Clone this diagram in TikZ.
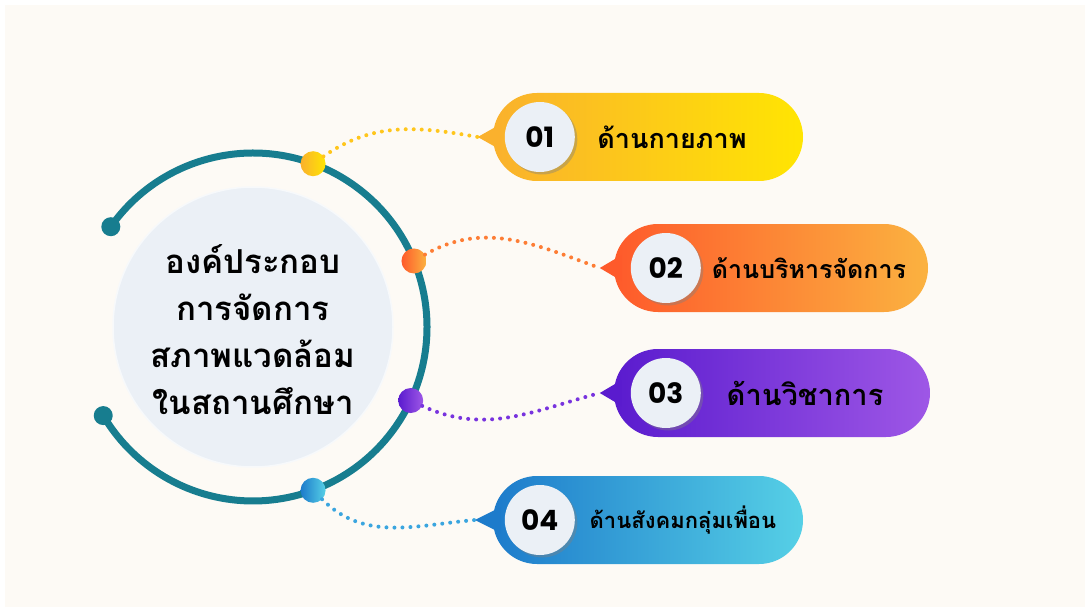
\documentclass[tikz,border=0pt]{standalone}
\usepackage{fontspec}
\usetikzlibrary{calc,positioning,shadows}
\newfontfamily\thaifont[Script=Thai]{Loma}
\newfontfamily\numfont{Poppins}
\definecolor{bgcream}{HTML}{FDFAF5}
\definecolor{ringteal}{HTML}{177D8F}
\definecolor{hubfill}{HTML}{EBF0F6}
\definecolor{yelA}{HTML}{FAB12D}
\definecolor{yelB}{HTML}{FFE502}
\definecolor{yelC}{HTML}{FFC61C}
\definecolor{oraA}{HTML}{FE5A2B}
\definecolor{oraB}{HTML}{FBB240}
\definecolor{oraC}{HTML}{FD7D35}
\definecolor{purA}{HTML}{5A1BCE}
\definecolor{purB}{HTML}{9E57E6}
\definecolor{purC}{HTML}{7833DE}
\definecolor{bluA}{HTML}{1D7BCB}
\definecolor{bluB}{HTML}{56D0E6}
\definecolor{bluC}{HTML}{3AA5DF}
\begin{document}
\begin{tikzpicture}[x=1pt,y=-1pt,
  pill/.style={rounded corners=44pt,minimum width=#1,minimum height=88pt,inner sep=0pt},
  numdisc/.style={circle,fill=hubfill,minimum size=70pt,inner sep=0pt,
    font=\numfont\bfseries\fontsize{28}{28}\selectfont,
    drop shadow={shadow xshift=2.5pt,shadow yshift=-2.5pt,opacity=0.4}},
  lbl/.style={inner sep=0pt,font=\thaifont\bfseries\fontsize{#1}{#1}\selectfont},
  knob/.style={circle,minimum size=25pt,inner sep=0pt},
  endknob/.style={circle,fill=ringteal,minimum size=19pt,inner sep=0pt},
  dotline/.style={line width=4pt,line cap=round,dash pattern=on 0pt off 8pt}]
\useasboundingbox (0,0) rectangle (1085,607);
\fill[white] (0,0) rectangle (1085,607);
\fill[bgcream] (5,5) rectangle (1085,607);

\coordinate (ctr) at (253,327);
\coordinate (arcA) at ($(ctr)+(-144.8:174)$);
\coordinate (arcB) at ($(ctr)+(149.4:174)$);

\draw[ringteal,line width=7pt] (arcA) arc[start angle=-144.8,end angle=149.4,radius=174];
\node[endknob] (ea) at (arcA) {};
\node[endknob] (eb) at (arcB) {};

\node[circle,fill=hubfill,draw=white!60!hubfill,line width=1.5pt,minimum size=280pt] (hub) at (ctr) {};
\node[lbl=33,align=center,text depth=0pt] (title) at (253,330)
  {องค์ประกอบ\\[14pt]การจัดการ\\[14pt]สภาพแวดล้อม\\[14pt]ในสถานศึกษา};

\node[knob,left color=yelA,right color=yelB] (k1) at ($(ctr)+(-69.8:174)$) {};
\node[knob,left color=oraA,right color=oraB] (k2) at ($(ctr)+(-22.3:174)$) {};
\node[knob,left color=purA,right color=purB] (k3) at ($(ctr)+(25:174)$) {};
\node[knob,left color=bluA,right color=bluB] (k4) at ($(ctr)+(69.8:174)$) {};

\node[pill=310,left color=yelA,right color=yelB] (p1) at (648,137) {};
\node[pill=314,left color=oraA,right color=oraB] (p2) at (771,268) {};
\node[pill=316,left color=purA,right color=purB] (p3) at (772,393) {};
\node[pill=310,left color=bluA,right color=bluB] (p4) at (648,520) {};

\coordinate (t1) at ($(p1.west)+(-15,0)$);
\coordinate (t2) at ($(p2.west)+(-14,0)$);
\coordinate (t3) at ($(p3.west)+(-14,0)$);
\coordinate (t4) at ($(p4.west)+(-18,0)$);

\fill[yelA] (t1) -- ($(p1.west)+(8,-13)$) -- ($(p1.west)+(8,13)$) -- cycle;
\fill[oraA] (t2) -- ($(p2.west)+(8,-13)$) -- ($(p2.west)+(8,13)$) -- cycle;
\fill[purA] (t3) -- ($(p3.west)+(8,-13)$) -- ($(p3.west)+(8,13)$) -- cycle;
\fill[bluA] (t4) -- ($(p4.west)+(8,-13)$) -- ($(p4.west)+(8,13)$) -- cycle;

\draw[dotline,yelC] (k1) to[out=35,in=170] (t1);
\draw[dotline,oraC] (k2) to[out=30,in=160] (t2);
\draw[dotline,purC] (k3) to[out=-25,in=195] (t3);
\draw[dotline,bluC] (k4) to[out=-45,in=185] (t4);

\node[numdisc] (n1) at ($(p1.west)+(47,0)$) {01};
\node[numdisc] (n2) at ($(p2.west)+(52,0)$) {02};
\node[numdisc] (n3) at ($(p3.west)+(52,0)$) {03};
\node[numdisc] (n4) at ($(p4.west)+(47,0)$) {04};

\node[lbl=27] (l1) at (672,137) {ด้านกายภาพ};
\node[lbl=25] (l2) at (809,268) {ด้านบริหารจัดการ};
\node[lbl=29] (l3) at (805,393) {ด้านวิชาการ};
\node[lbl=22] (l4) at (683,520) {ด้านสังคมกลุ่มเพื่อน};
\end{tikzpicture}
\end{document}
